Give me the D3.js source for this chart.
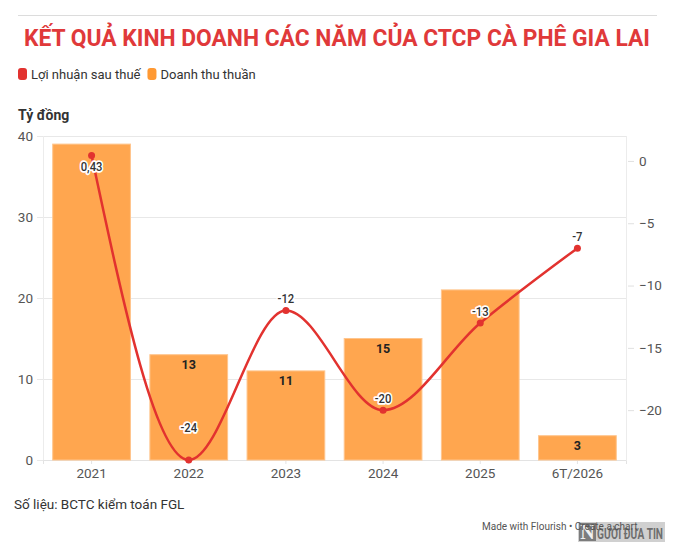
<!DOCTYPE html>
<html>
<head>
<meta charset="utf-8">
<script src="https://cdn.jsdelivr.net/npm/d3@7"></script>
<style>
  body { margin: 0; background: #fff; }
  svg text { font-family: Roboto, "Noto Sans", sans-serif; }
</style>
</head>
<body>
<div id="container"></div>
<script>
// du lieu
var categories = ["2021", "2022", "2023", "2024", "2025", "6T/2026"];
var revenue = [39, 13, 11, 15, 21, 3];          // Doanh thu thuần
var profit = [0.43, -24, -12, -20, -13, -7];    // Lợi nhuận sau thuế
var profitLabels = ["0,43", "-24", "-12", "-20", "-13", "-7"];
var leftTicks = [0, 10, 20, 30, 40];
var rightTicks = [0, -5, -10, -15, -20];
var seriesNames = ["Lợi nhuận sau thuế", "Doanh thu thuần"];

var W = 697, H = 554,
    margin = {top: 136, bottom: 94, left: 43, right: 71},
    width = W - margin.left - margin.right,
    height = H - margin.top - margin.bottom;

var red = "#e2322f", orange = "#ffa64f";

// font hep: nen chu ngang theo ty le k
function condense(sel, k) {
  sel.each(function() {
    var len = this.getComputedTextLength();
    d3.select(this).attr("textLength", len * k).attr("lengthAdjust", "spacingAndGlyphs");
  });
}

var svg = d3.select("div#container").append("svg").attr("width", W).attr("height", H);

// duong ke tren cung
svg.append("line").attr("x1", 18).attr("x2", 657).attr("y1", 15.5).attr("y2", 15.5)
   .attr("stroke", "#dcdcdc").attr("stroke-width", 1);

// tieu de
svg.append("text").attr("x", 337).attr("y", 46).attr("text-anchor", "middle")
   .style("font-weight", "bold").style("font-size", "23px").attr("fill", "#e0393a")
   .attr("textLength", 626).attr("lengthAdjust", "spacingAndGlyphs")
   .text("KẾT QUẢ KINH DOANH CÁC NĂM CỦA CTCP CÀ PHÊ GIA LAI");

// chu thich
var legend = svg.append("g").attr("transform", "translate(18,74)");
var lx = 0;
[red, orange].forEach(function(c, i) {
  var it = legend.append("g").attr("transform", "translate(" + lx + ",0)");
  it.append("rect").attr("x", 0).attr("y", -6).attr("width", 9).attr("height", 12).attr("rx", 3).attr("fill", i ? "#ff9933" : c);
  var t = it.append("text").attr("x", 13).attr("y", 4.5).style("font-size", "13px").attr("fill", "#333").text(seriesNames[i]);
  lx += 13 + t.node().getComputedTextLength() + 7;
});

svg.append("text").attr("x", 18).attr("y", 120).style("font-size", "14px").style("font-weight", "bold")
   .attr("fill", "#333").text("Tỷ đồng");

var g = svg.append("g").attr("transform", "translate(" + margin.left + "," + margin.top + ")");

var xScale = d3.scaleBand().domain(categories).range([0, width]).paddingInner(0.2).paddingOuter(0.1);
var yLeft = d3.scaleLinear().domain([0, 40]).range([height, 0]);
var yRight = d3.scaleLinear().domain([-24, 2]).range([height, 0]);

// luoi
g.append("g").selectAll("line").data(leftTicks).join("line")
  .attr("x1", -6).attr("x2", width).attr("y1", function(d) { return yLeft(d) + 0.5; }).attr("y2", function(d) { return yLeft(d) + 0.5; })
  .attr("stroke", "#e8e8e8");
g.append("line").attr("x1", 0.5).attr("x2", 0.5).attr("y1", 0).attr("y2", height).attr("stroke", "#ececec");
g.append("line").attr("x1", width + 0.5).attr("x2", width + 0.5).attr("y1", 0).attr("y2", height).attr("stroke", "#ececec");

// truc trai
var yAxisL = d3.axisLeft(yLeft).tickValues(leftTicks).tickSize(0).tickPadding(10);
g.append("g").call(yAxisL).call(function(a) {
  a.select(".domain").remove();
  a.selectAll("text").style("font-size", "13.5px").attr("fill", "#555");
});

// truc phai
var yAxisR = d3.axisRight(yRight).tickValues(rightTicks).tickSize(6).tickPadding(5);
g.append("g").attr("transform", "translate(" + (width + 2) + ",0)").call(yAxisR).call(function(a) {
  a.select(".domain").remove();
  a.selectAll("line").attr("stroke", "#e0e0e0");
  a.selectAll("text").style("font-size", "13.5px").attr("fill", "#555");
});

// truc x
var xAxis = d3.axisBottom(xScale).tickSize(4).tickPadding(4);
g.append("g").attr("transform", "translate(0," + height + ")").call(xAxis).call(function(a) {
  a.select(".domain").attr("stroke", "#e3e3e3");
  a.selectAll("line").attr("stroke", "#e3e3e3");
  a.selectAll("text").style("font-size", "13.5px").attr("fill", "#555");
});

// cot
g.append("g").selectAll("rect").data(revenue).join("rect")
  .attr("x", function(d, i) { return xScale(categories[i]); })
  .attr("y", function(d) { return yLeft(d); })
  .attr("width", xScale.bandwidth())
  .attr("height", function(d) { return height - yLeft(d); })
  .attr("fill", orange).attr("stroke", "#ffc58d").attr("stroke-width", 1);

// duong
var cx = function(i) { return xScale(categories[i]) + xScale.bandwidth() / 2; };
var line = d3.line().curve(d3.curveMonotoneX)
  .x(function(d, i) { return cx(i); })
  .y(function(d) { return yRight(d); });
g.append("path").datum(profit).attr("d", line).attr("fill", "none").attr("stroke", red).attr("stroke-width", 2.5);
g.append("g").selectAll("circle").data(profit).join("circle")
  .attr("cx", function(d, i) { return cx(i); }).attr("cy", function(d) { return yRight(d); })
  .attr("r", 3.5).attr("fill", red);

// nhan duong
function labelY(d, i) {
  var y = yRight(d);
  if (y - 24 < 0) return y + 15;          // sat mep tren -> dat ben duoi
  if (height - y < 4) return y - 28;      // sat day -> day len
  return y - 7;
}
var lineLabelBoxes = [];
var lineLabels = g.append("g").selectAll("text").data(profit).join("text")
  .attr("x", function(d, i) { return cx(i); })
  .attr("y", labelY)
  .attr("text-anchor", "middle")
  .style("font-size", "12.5px").style("font-weight", "500")
  .attr("fill", "#333").attr("stroke", "#fff").attr("stroke-width", 3.5).attr("stroke-linejoin", "round")
  .attr("paint-order", "stroke")
  .text(function(d, i) { return profitLabels[i]; })
  .call(condense, 0.9);
lineLabels.each(function() { lineLabelBoxes.push(this.getBBox()); });

// nhan cot (an neu trung nhan duong)
g.append("g").selectAll("text").data(revenue).join("text")
  .attr("x", function(d, i) { return cx(i); })
  .attr("y", function(d) { return yLeft(d) + 14; })
  .attr("text-anchor", "middle")
  .style("font-size", "12.5px").style("font-weight", "bold")
  .attr("fill", "#222").attr("stroke", orange).attr("stroke-width", 3).attr("paint-order", "stroke")
  .text(function(d) { return d; })
  .each(function(d, i) {
    var b = this.getBBox(), o = lineLabelBoxes[i];
    var hit = b.x < o.x + o.width && o.x < b.x + b.width && b.y < o.y + o.height + 6 && o.y < b.y + b.height + 6;
    if (hit) d3.select(this).remove();
  });

// nguon
svg.append("text").attr("x", 14).attr("y", 509).style("font-size", "13.5px").attr("fill", "#333")
   .text("Số liệu: BCTC kiểm toán FGL");

// logo (watermark)
var logo = svg.append("g").attr("transform", "translate(578,522)").attr("opacity", 0.85);
logo.append("rect").attr("x", 0).attr("y", 0).attr("width", 87).attr("height", 20).attr("fill", "#9a9a9a").attr("opacity", 0.55);
logo.append("rect").attr("x", 1).attr("y", 1).attr("width", 17).attr("height", 18).attr("fill", "#666");
logo.append("text").attr("x", 9.5).attr("y", 17).attr("text-anchor", "middle").style("font-family", "'Liberation Serif', serif")
  .style("font-size", "20px").style("font-weight", "bold").attr("fill", "#eee").text("N");
logo.append("text").attr("x", 19).attr("y", 17)
  .style("font-size", "14px").style("font-weight", "bold").attr("fill", "#555").text("GƯỜI ĐƯA TIN")
  .attr("textLength", 66).attr("lengthAdjust", "spacingAndGlyphs");

svg.append("text").attr("x", 482).attr("y", 530).style("font-size", "10px").attr("fill", "#555")
   .text("Made with Flourish • Create a chart");
</script>
</body>
</html>
